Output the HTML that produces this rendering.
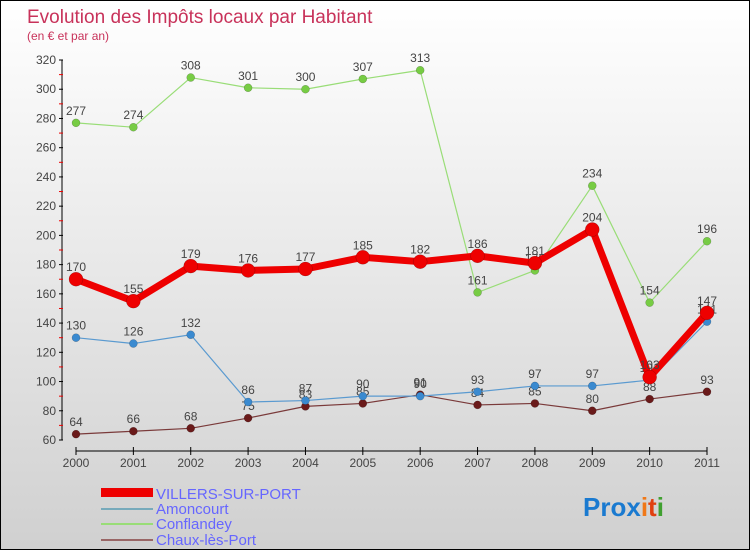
<!DOCTYPE html>
<html><head><meta charset="utf-8"><style>
body{margin:0}
#c{width:748px;height:548px;border:1px solid #000;background:linear-gradient(#fff,#d0d0d0);position:relative;font-family:"Liberation Sans",sans-serif}
</style></head><body>
<div id="c">
<svg id="s" width="748" height="548" xmlns="http://www.w3.org/2000/svg">
<text x="26" y="22" font-size="19" fill="#c8325a">Evolution des Impôts locaux par Habitant</text>
<text x="26" y="39" font-size="12" fill="#c8325a">(en € et par an)</text>
<g id="g"></g>
<g>
<rect x="100" y="487" width="52" height="9" fill="#e00"/>
<text x="155" y="498" font-size="15" fill="#66f">VILLERS-SUR-PORT</text>
<rect x="100" y="507" width="52" height="2" fill="#7ab"/>
<text x="155" y="513" font-size="15" fill="#66f">Amoncourt</text>
<rect x="100" y="522" width="52" height="2" fill="#9d7"/>
<text x="155" y="528" font-size="15" fill="#66f">Conflandey</text>
<rect x="100" y="538" width="52" height="2" fill="#966"/>
<text x="155" y="544" font-size="15" fill="#66f">Chaux-lès-Port</text>
</g>
<text x="582" y="515" font-size="26" font-weight="bold"><tspan fill="#1a7ad0">Pro</tspan><tspan fill="#1a7ad0">x</tspan><tspan fill="#f07818">i</tspan><tspan fill="#e04010">t</tspan><tspan fill="#40a030">i</tspan></text>
</svg></div>
<script>
const years=[2000,2001,2002,2003,2004,2005,2006,2007,2008,2009,2010,2011];
const villers=[170,155,179,176,177,185,182,186,181,204,103,147];
const amoncourt=[130,126,132,86,87,90,90,93,97,97,101,141];
const conflandey=[277,274,308,301,300,307,313,161,176,234,154,196];
const chaux=[64,66,68,75,83,85,91,84,85,80,88,93];
const yTicks=[60,80,100,120,140,160,180,200,220,240,260,280,300,320];
const NS='http://www.w3.org/2000/svg';
const g=document.getElementById('g');
const X=i=>75+i*(706-75)/11;
const Y=v=>439-(v-60)*(380/260);
function mk(t,a,p){const e=document.createElementNS(NS,t);for(const k in a)e.setAttribute(k,a[k]);(p||g).appendChild(e);return e;}
// axes
let ax=mk('line',{x1:61,y1:Y(320),x2:61,y2:Y(60),stroke:'#000','stroke-width':1});


yTicks.forEach(v=>{
 mk('line',{x1:58,x2:62,y1:Y(v),y2:Y(v),stroke:'#000'});
 if(v<320)mk('line',{x1:58,x2:62,y1:Y(v+10),y2:Y(v+10),stroke:'#e00'});
 const t=mk('text',{x:55,y:Y(v)+4,'font-size':12,fill:'#444','text-anchor':'end'});t.textContent=v;
 
 
});
let xa=mk('line',{x1:75,y1:450,x2:706,y2:450,stroke:'#000'});


years.forEach((y,i)=>{
 mk('line',{x1:X(i),x2:X(i),y1:446,y2:454,stroke:'#000'});
 const t=mk('text',{x:X(i),y:466,'font-size':12,fill:'#444','text-anchor':'middle'});t.textContent=y;
 
 
});
function series(d,name,col,w,r,dot){
 const s=mk('g',{});
 
 
 const p=mk('polyline',{points:d.map((v,i)=>X(i)+','+Y(v)).join(' '),fill:'none',stroke:col,'stroke-width':w,'stroke-linejoin':'round'},s);
 
 
 d.forEach((v,i)=>{
  const c=mk('circle',{cx:X(i),cy:Y(v),r:r,fill:dot,stroke:'rgba(0,0,0,0.3)','stroke-width':0.5},s);
  
  
  const t=mk('text',{x:X(i),y:Y(v)-8,'font-size':12,fill:'#444','text-anchor':'middle'},s);t.textContent=v;
  
  
 });
}
series(chaux,'chaux','#7a3a3a',1.2,4,'#6a1a1a');
series(amoncourt,'amoncourt','#5a9ad0',1.2,4,'#3a8ad0');
series(conflandey,'conflandey','#9d7',1.2,4,'#7c4');
series(villers,'villers','#e00',7,7,'#e00');
</script>
</body></html>
